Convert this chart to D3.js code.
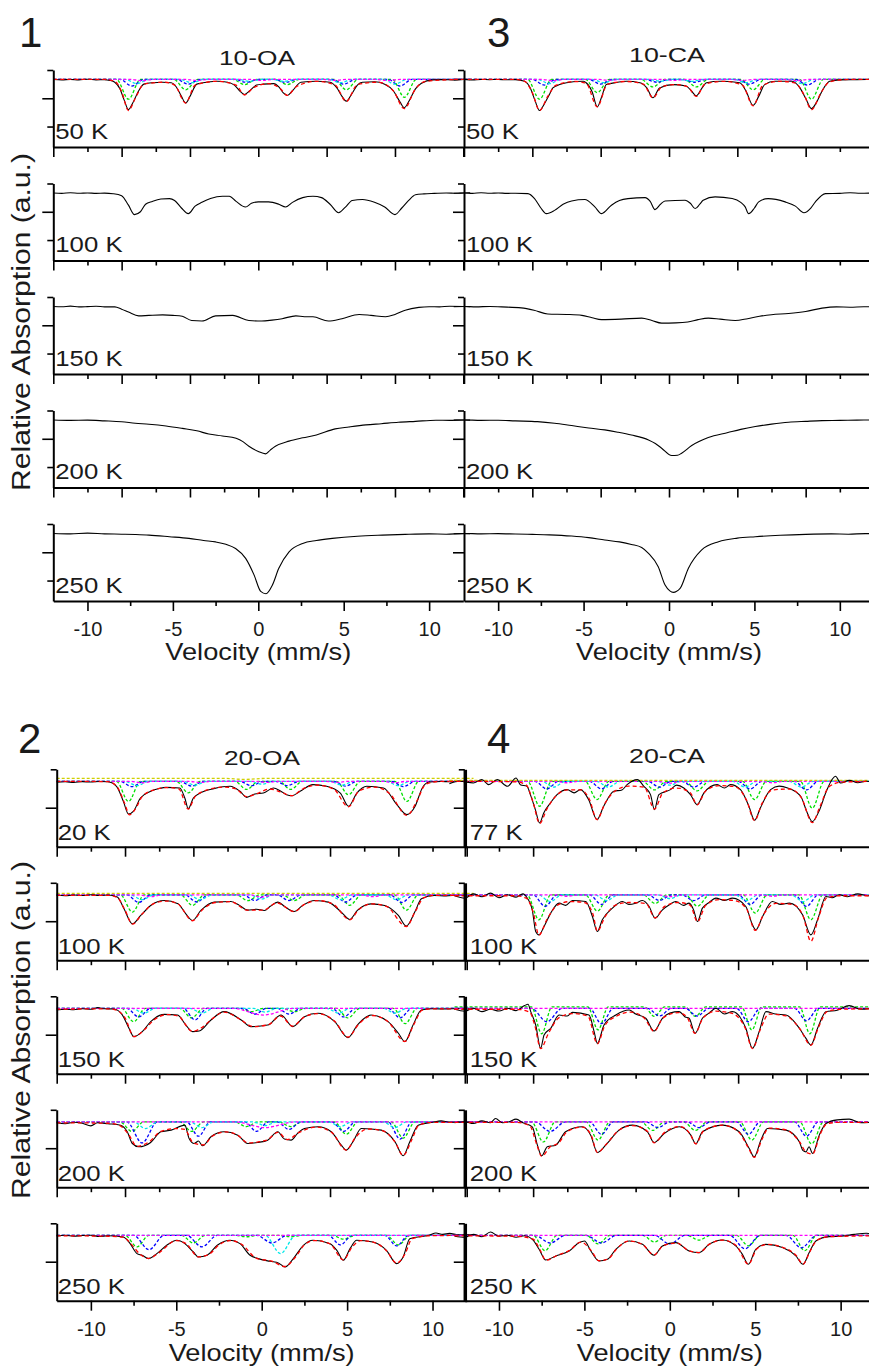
<!DOCTYPE html>
<html>
<head>
<meta charset="utf-8">
<script src="https://cdn.jsdelivr.net/npm/d3@7"></script>
<style>
	body { margin: 0; background: #fff; }
	svg { display: block; }
</style>
</head>
<body>
<div class="chart"></div>
<script>
// velocity axis (mm/s)
const velocityDomain = [ -12, 12 ];
const innerTicksMajor = [ -12, -8, -4, 0, 4, 8, 12 ];
const innerTicksMinor = [ -10, -6, -2, 2, 6, 10 ];
const bottomTicksMajor = [ -10, -5, 0, 5, 10 ];
const bottomTicksMinor = [ -7.5, -2.5, 2.5, 7.5 ];

const sampleNames = [ '10-OA', '10-CA', '20-OA', '20-CA' ];
const panelNumbers = [ '1', '3', '2', '4' ];
const tempsOA10 = [ '50 K', '100 K', '150 K', '200 K', '250 K' ];
const tempsCA10 = [ '50 K', '100 K', '150 K', '200 K', '250 K' ];
const tempsOA20 = [ '20 K', '100 K', '150 K', '200 K', '250 K' ];
const tempsCA20 = [ '77 K', '100 K', '150 K', '200 K', '250 K' ];

// spectra: [velocity, absorption %]
const oa10_50 = [[-12,0],[-11.5,0.05],[-11,0],[-10.5,0.05],[-10,-0.02],[-9.5,0.05],[-9,0.03],[-8.7,0.1],[-8.4,0.3],[-8.1,1.0],[-7.85,2.2],[-7.6,3.2],[-7.35,2.5],[-7.0,1.2],[-6.7,0.5],[-6.2,0.35],[-5.6,0.3],[-5.1,0.35],[-4.8,0.8],[-4.5,1.8],[-4.25,2.5],[-4.0,1.8],[-3.6,0.5],[-3.0,0.3],[-2.4,0.2],[-1.8,0.3],[-1.4,0.6],[-1.05,1.3],[-0.8,1.6],[-0.5,1.2],[-0.1,0.6],[0.3,0.5],[0.9,0.45],[1.2,0.8],[1.45,1.4],[1.7,1.7],[2.0,1.2],[2.5,0.3],[3.4,0.2],[4.2,0.3],[4.6,0.9],[4.9,1.8],[5.15,2.3],[5.45,1.6],[5.8,0.6],[6.1,0.3],[6.8,0.25],[7.4,0.5],[7.9,1.2],[8.3,2.4],[8.55,3.0],[8.85,2.2],[9.2,1.0],[9.55,0.4],[10.2,0.05],[10.8,0.02],[11.4,0.05],[12,0],[12.4,0.03]];
const oa10_100 = [[-12,0],[-11.5,0.05],[-11,-0.02],[-10.5,0.04],[-10,0],[-9.5,0.05],[-9,0.02],[-8.5,0.08],[-8.0,0.3],[-7.6,1.3],[-7.25,2.3],[-6.9,2.0],[-6.6,1.2],[-6.2,0.9],[-5.7,0.65],[-5.2,0.6],[-4.9,0.8],[-4.5,1.6],[-4.1,2.2],[-3.7,1.4],[-3.3,1.0],[-2.8,0.6],[-2.1,0.35],[-1.7,0.35],[-1.3,0.9],[-0.75,1.5],[-0.4,1.1],[0,0.95],[0.6,0.95],[1.2,1.2],[1.6,1.5],[2.0,1.0],[2.6,0.5],[3.2,0.35],[3.7,0.5],[4.2,1.2],[4.7,2.1],[5.1,1.5],[5.5,0.8],[6.1,0.7],[6.8,1.0],[7.4,1.5],[8.0,2.3],[8.4,1.6],[8.8,0.8],[9.2,0.2],[9.7,0.1],[10.3,0.05],[11,0],[11.6,0.04],[12,0],[12.4,-0.02]];
const oa10_150 = [[-12,0],[-11.5,0.03],[-11,-0.03],[-10.5,0.05],[-10,0.02],[-9.5,-0.02],[-9,0.05],[-8.4,0.05],[-8.0,0.3],[-7.6,0.6],[-7.0,1.0],[-6.4,0.95],[-5.6,0.9],[-5.0,0.95],[-4.45,1.05],[-3.9,1.5],[-3.3,1.55],[-2.5,1.0],[-1.5,0.95],[-0.55,1.5],[0.2,1.55],[0.8,1.45],[1.4,1.3],[2.2,1.0],[2.7,1.1],[3.2,1.1],[4.1,1.55],[4.9,1.3],[5.9,0.85],[6.6,0.95],[7.45,1.1],[8.0,0.85],[8.6,0.4],[9.4,0.1],[10,0.03],[10.6,0.05],[11.2,-0.02],[12,0],[12.4,0.02]];
const oa10_200 = [[-12,0],[-11,0.05],[-10,0.02],[-9,0.1],[-8.0,0.2],[-7.2,0.35],[-6.4,0.46],[-5.4,0.65],[-4.45,0.9],[-3.6,1.15],[-2.9,1.5],[-2.1,1.7],[-1.3,1.95],[-0.9,2.3],[-0.55,2.8],[0.0,3.35],[0.43,3.6],[0.7,3.2],[1.0,2.8],[1.8,2.25],[2.6,1.9],[3.4,1.6],[4.5,0.95],[5.3,0.75],[6.3,0.53],[7.2,0.4],[8.2,0.25],[9.2,0.15],[10.4,0.03],[11.2,0.05],[12,0],[12.4,0.02]];
const oa10_250 = [[-12,0],[-11,0.05],[-10,-0.03],[-9,0.05],[-8,0.08],[-7.2,0.12],[-6.4,0.18],[-5.2,0.35],[-4.06,0.53],[-3.2,0.75],[-2.5,0.9],[-1.9,1.15],[-1.33,1.6],[-0.74,2.65],[-0.25,4.4],[0.14,6.15],[0.45,6.4],[0.82,5.5],[1.2,3.7],[1.8,1.95],[2.6,1.06],[3.4,0.75],[4.33,0.53],[5.8,0.3],[7.26,0.18],[8.6,0.1],[10,0.05],[11,0.08],[12,0.02],[12.4,0.03]];

const ca10_50 = [[-12.6,0.05],[-12,0],[-11.5,0.05],[-11,0],[-10.5,0.03],[-10,0],[-9.5,0.04],[-9,0.02],[-8.45,0.2],[-8.1,1.0],[-7.85,2.2],[-7.58,3.3],[-7.3,2.6],[-7.0,1.6],[-6.8,0.9],[-6.4,0.55],[-6.0,0.35],[-5.0,0.2],[-4.85,0.35],[-4.5,1.3],[-4.2,2.9],[-3.95,1.9],[-3.67,0.55],[-3.0,0.3],[-2.5,0.2],[-1.7,0.35],[-1.3,0.9],[-0.94,1.95],[-0.55,0.9],[0.23,0.55],[1.0,0.7],[1.3,1.2],[1.6,1.75],[1.9,1.0],[2.2,0.35],[3.0,0.2],[4.14,0.35],[4.5,1.2],[4.92,2.75],[5.25,1.8],[5.6,0.55],[6.2,0.2],[7.2,0.2],[7.66,0.9],[8.0,2.0],[8.34,3.1],[8.7,2.2],[9.0,1.1],[9.4,0.2],[10,0.05],[11,0.03],[12,0]];
const ca10_100 = [[-12.6,0.03],[-12,0],[-11.5,0.05],[-11,-0.02],[-10.5,0.04],[-10,0],[-9.5,0.05],[-9,0.03],[-8.26,0.07],[-7.87,0.6],[-7.5,1.6],[-7.18,2.2],[-6.7,1.85],[-6.2,1.2],[-5.7,0.85],[-4.93,0.7],[-4.34,1.48],[-3.95,2.2],[-3.37,1.3],[-2.9,0.8],[-2.4,0.6],[-1.4,0.5],[-1.1,0.9],[-0.82,1.77],[-0.5,1.2],[-0.23,0.85],[0.94,0.78],[1.25,1.1],[1.53,1.66],[1.8,1.2],[2.0,0.78],[2.7,0.42],[3.7,0.6],[4.2,1.0],[4.46,1.48],[4.66,2.2],[5.0,1.6],[5.25,0.95],[5.8,0.6],[6.8,0.95],[7.4,1.4],[7.9,2.1],[8.3,1.6],[8.57,0.95],[9.16,0.07],[10,0.05],[10.6,-0.02],[11.2,0.04],[12,0]];
const ca10_150 = [[-12.6,0.02],[-12,0],[-11.3,0.05],[-10.5,0],[-9.8,0.05],[-8.65,0.15],[-7.9,0.4],[-7.1,0.8],[-6.0,0.85],[-5.1,0.95],[-4.5,1.2],[-3.95,1.4],[-2.8,1.35],[-1.6,1.24],[-1.0,1.5],[-0.43,1.77],[0.4,1.75],[1.1,1.66],[1.7,1.4],[2.3,1.24],[3.0,1.35],[3.87,1.5],[4.6,1.3],[5.3,1.05],[6.0,0.88],[7.0,0.75],[8.0,0.53],[8.96,0.18],[9.8,0.05],[10.6,0.08],[11.4,0.03],[12,0.04]];
const ca10_200 = [[-12.6,0.02],[-12,0],[-11,0.05],[-10,0.03],[-9,0.1],[-7.7,0.18],[-6.7,0.35],[-5.7,0.6],[-4.7,0.85],[-3.76,1.06],[-3.0,1.3],[-2.2,1.6],[-1.2,2.12],[-0.8,2.5],[-0.43,3.0],[0.16,3.78],[0.5,3.75],[0.74,3.53],[1.33,2.72],[2.3,1.87],[3.45,1.34],[4.2,1.0],[5.05,0.7],[6.0,0.45],[7.0,0.25],[8.0,0.15],[8.96,0.07],[10,0.05],[11,0.02],[12,0]];
const ca10_250 = [[-12.6,0.03],[-12,0],[-11,0.05],[-10,0.02],[-9,0.06],[-8,0.1],[-7,0.15],[-5.7,0.28],[-4.7,0.45],[-3.76,0.7],[-2.9,0.9],[-2.2,1.17],[-1.6,1.5],[-1.2,2.12],[-0.63,3.53],[-0.23,5.48],[0.05,6.1],[0.25,6.25],[0.65,5.83],[1.13,3.71],[1.9,1.77],[2.9,0.88],[4.0,0.5],[5.05,0.35],[6.5,0.2],[8.0,0.1],[9.5,0.05],[10.5,0.08],[11.5,0.02],[12,0.03]];

const oa20_20 = [[-12,0.1],[-11.5,0.05],[-11,0.12],[-10.5,0.03],[-10,0.08],[-9.5,0.02],[-9,0.05],[-8.5,0.52],[-8.1,2.08],[-7.8,3.4],[-7.5,3.1],[-7.1,1.74],[-6.5,1.04],[-6.0,0.75],[-5.6,0.63],[-4.8,0.69],[-4.5,1.74],[-4.3,2.85],[-4.0,1.74],[-3.6,1.22],[-2.8,0.76],[-1.85,0.52],[-1.27,1.04],[-0.88,1.67],[-0.4,1.32],[0.1,1.22],[0.68,0.7],[1.1,1.0],[1.46,1.4],[1.76,1.5],[2.25,1.04],[3.0,0.35],[3.8,0.52],[4.6,1.22],[5.08,2.6],[5.57,1.22],[6.15,0.52],[7.13,0.69],[7.9,2.4],[8.5,3.47],[8.98,2.6],[9.4,0.69],[9.8,0.07],[10.5,0.02],[11,0.05],[11.5,-0.02],[12,0.03],[12.4,0.05]];
const oa20_100 = [[-12,0.05],[-11.5,0.1],[-11,0.02],[-10.5,0.08],[-10,0],[-9.5,0.06],[-9,0.02],[-8.45,0.24],[-8.06,1.46],[-7.57,3.02],[-7.08,2.15],[-6.5,1.11],[-5.7,0.59],[-4.9,0.94],[-4.44,1.98],[-4.05,2.67],[-3.56,1.63],[-2.78,0.76],[-1.8,0.69],[-1.3,1.1],[-0.82,1.6],[-0.3,1.5],[0.16,1.63],[0.5,1.2],[0.94,0.76],[1.4,1.3],[1.9,1.74],[2.4,1.1],[3.1,0.59],[3.9,0.76],[4.66,1.8],[5.15,2.57],[5.6,1.63],[6.4,0.94],[7.2,1.11],[8.0,2.15],[8.47,3.26],[8.96,1.8],[9.35,0.42],[10.1,0.07],[10.8,0.12],[11.5,0.02],[12,0.08],[12.4,0.05]];
const oa20_150 = [[-12,0.17],[-11.5,0.1],[-11,0.15],[-10.5,0.05],[-10,0.1],[-9.6,-0.07],[-9.2,0.05],[-8.65,0.07],[-8.16,0.69],[-7.77,2.08],[-7.48,2.95],[-6.99,2.43],[-6.5,1.39],[-5.7,0.63],[-4.93,0.69],[-4.44,1.74],[-4.05,2.43],[-3.66,2.36],[-2.97,1.22],[-2.2,0.35],[-1.2,1.22],[-0.63,1.91],[0.35,1.74],[1.13,0.69],[1.82,1.91],[2.5,0.87],[3.3,0.52],[4.27,1.39],[5.05,3.06],[5.6,1.74],[6.4,0.69],[7.4,1.39],[8.0,2.6],[8.38,3.47],[8.86,1.74],[9.35,0.17],[10,0.05],[10.8,0.08],[11.5,0.02],[12,0.06],[12.4,0.03]];
const oa20_200 = [[-12,0.1],[-11.5,0.2],[-11,0.05],[-10.5,0.15],[-10,0.42],[-9.6,0.1],[-9,0.2],[-8.26,0.35],[-7.87,1.04],[-7.57,2.26],[-7.2,2.6],[-6.5,2.15],[-5.9,1.04],[-5.3,0.87],[-4.5,0.35],[-4.25,1.74],[-3.95,2.26],[-3.7,2.0],[-3.46,2.5],[-2.97,1.56],[-2.2,1.04],[-1.4,1.39],[-0.82,2.26],[-0.23,2.15],[0.35,1.91],[0.94,1.04],[1.33,1.8],[1.72,1.91],[2.1,1.2],[2.5,0.69],[3.3,0.52],[4.07,1.04],[4.66,2.43],[4.95,2.95],[5.34,2.08],[5.83,0.69],[7.0,0.87],[7.8,2.08],[8.28,3.54],[8.67,2.08],[9.16,0.35],[10,0.05],[10.5,-0.1],[11,0.05],[12,0.02],[12.4,0.06]];
const oa20_250 = [[-12,0.07],[-11.5,0.0],[-11,0.1],[-10.5,0.02],[-10,0.0],[-9.5,0.12],[-9,0.05],[-8.1,0.17],[-7.7,0.87],[-7.3,1.91],[-7.0,2.08],[-6.63,2.43],[-6.14,1.91],[-5.56,1.04],[-4.97,0.52],[-4.5,0.87],[-4.0,1.74],[-3.7,2.26],[-3.2,2.08],[-2.6,1.04],[-1.85,0.52],[-1.27,0.87],[-0.68,2.08],[-0.2,2.43],[0.5,2.71],[1.0,2.9],[1.36,3.3],[1.85,2.43],[2.44,1.04],[3.0,0.52],[4.0,0.87],[4.4,1.56],[4.78,2.6],[5.17,1.39],[5.56,0.52],[6.5,0.69],[7.3,1.56],[7.9,2.95],[8.28,2.26],[8.67,0.35],[9.8,0.0],[10.2,-0.24],[10.6,-0.1],[11.0,-0.2],[11.5,-0.05],[12,-0.07],[12.4,0.0]];

const ca20_77 = [[-12.9,0.24],[-12.3,0.0],[-11.5,0.17],[-11.0,-0.17],[-10.6,0.35],[-10.1,-0.17],[-9.5,0.52],[-9.0,-0.35],[-8.75,0.35],[-8.36,0.52],[-8.16,1.39],[-7.87,2.95],[-7.62,4.34],[-7.38,3.3],[-6.99,2.26],[-6.6,1.39],[-6.0,0.87],[-5.6,1.2],[-5.23,0.87],[-4.75,1.91],[-4.26,3.99],[-3.87,2.6],[-3.28,1.04],[-2.8,0.9],[-2.5,0.35],[-1.9,-0.17],[-1.52,0.52],[-1.13,1.39],[-0.9,2.95],[-0.64,1.39],[0.04,0.87],[0.4,0.4],[0.82,0.69],[1.21,1.39],[1.6,2.43],[2.0,1.2],[2.77,0.35],[3.2,0.7],[3.55,0.35],[4.14,0.87],[4.63,2.6],[4.96,4.06],[5.3,2.78],[5.9,0.87],[6.4,0.5],[6.9,0.69],[7.66,1.56],[8.05,3.3],[8.34,4.2],[8.73,3.13],[9.2,0.87],[9.7,-0.52],[10.0,0.17],[10.5,-0.1],[11.0,0.15],[11.5,0.0],[12,0.1]];
const ca20_100 = [[-12.6,0.1],[-12,0.35],[-11.5,-0.1],[-11,0.2],[-10.5,-0.17],[-10,0.3],[-9.5,0.0],[-9,0.24],[-8.6,-0.1],[-8.34,0.35],[-8.05,1.56],[-7.85,3.82],[-7.66,4.17],[-7.36,3.3],[-6.97,1.91],[-6.48,0.87],[-6.1,1.1],[-5.7,0.59],[-4.92,0.69],[-4.53,2.26],[-4.24,3.82],[-3.95,2.6],[-3.36,1.39],[-2.77,0.69],[-2.4,1.0],[-1.99,0.87],[-1.6,0.6],[-1.21,1.22],[-0.86,2.43],[-0.43,1.56],[0.0,1.0],[0.35,0.69],[0.8,1.1],[1.13,0.87],[1.4,1.6],[1.62,2.78],[1.91,1.39],[2.3,0.8],[2.7,0.35],[3.2,0.6],[3.67,0.35],[4.45,1.22],[4.84,3.13],[5.04,3.65],[5.43,2.26],[6.0,0.69],[6.5,1.0],[7.0,0.87],[7.77,2.08],[8.26,4.17],[8.65,2.6],[9.14,0.17],[9.5,0.3],[9.92,0.0],[10.4,0.2],[11,-0.1],[11.6,0.1],[12,0.05]];
const ca20_150 = [[-12.6,0.1],[-12,0.3],[-11.5,0.0],[-11,0.35],[-10.5,0.1],[-10,0.28],[-9.5,0.0],[-9,0.24],[-8.5,-0.28],[-8.3,-0.42],[-8.14,0.35],[-7.85,1.74],[-7.56,4.17],[-7.36,2.78],[-6.97,2.08],[-6.48,0.69],[-6.0,0.8],[-5.7,0.42],[-4.73,0.69],[-4.43,2.43],[-4.24,3.65],[-3.85,1.74],[-3.16,0.69],[-2.38,0.17],[-2.0,0.6],[-1.41,1.04],[-0.92,2.36],[-0.43,1.04],[0.0,0.5],[0.55,0.35],[0.9,0.9],[1.13,1.04],[1.48,2.6],[1.91,1.04],[2.3,0.5],[2.7,0.0],[3.2,0.6],[3.67,0.35],[4.45,2.08],[4.84,4.17],[5.23,2.43],[5.63,0.35],[6.2,0.6],[6.8,0.69],[7.58,2.08],[7.97,3.13],[8.26,3.82],[8.65,2.08],[9.14,0.35],[9.8,0.2],[10.5,-0.28],[11.2,0.1],[12,-0.05]];
const ca20_200 = [[-12.6,0.1],[-12,0.0],[-11.5,0.17],[-11,-0.1],[-10.5,0.1],[-10.2,-0.35],[-9.8,0.1],[-9.4,0.0],[-9,-0.28],[-8.6,0.1],[-8.05,0.52],[-7.75,2.43],[-7.5,3.54],[-7.17,2.6],[-6.68,2.43],[-6.1,1.04],[-5.12,0.52],[-4.63,1.39],[-4.24,3.19],[-3.75,2.43],[-2.97,0.87],[-2.19,0.35],[-1.31,1.04],[-0.92,2.15],[-0.33,1.22],[0.55,0.52],[1.23,1.39],[1.52,2.29],[1.91,1.04],[3.09,0.35],[4.06,1.04],[4.65,2.78],[4.94,3.65],[5.33,1.91],[5.72,0.69],[6.8,0.87],[7.58,2.08],[7.8,3.0],[7.97,3.13],[8.15,2.6],[8.36,3.3],[8.75,1.39],[9.14,0.17],[9.8,-0.2],[10.5,-0.28],[11.2,0.1],[12,0.0]];
const ca20_250 = [[-12.6,0.1],[-12,0.2],[-11.5,-0.1],[-11,0.15],[-10.5,-0.35],[-10,0.1],[-9.5,0.0],[-9,0.2],[-8.5,0.05],[-8.04,0.42],[-7.65,1.46],[-7.26,2.57],[-6.67,2.15],[-5.89,1.63],[-5.3,0.76],[-5.0,0.59],[-4.62,1.63],[-4.14,2.67],[-3.65,2.5],[-3.16,1.46],[-2.38,0.59],[-1.6,0.94],[-0.92,2.08],[-0.43,1.11],[0.35,0.76],[1.13,1.63],[1.72,1.8],[2.3,0.94],[3.08,0.49],[3.86,1.11],[4.25,1.98],[4.6,3.02],[5.03,1.46],[5.62,0.94],[6.6,1.28],[7.38,2.15],[7.8,3.02],[8.16,1.8],[8.55,0.59],[9.33,0.14],[10.0,0.1],[10.8,-0.1],[11.5,-0.21],[12,-0.1]];

// total fits (red)
const oa10_50_fit = [[-12,0],[-9,0],[-8.4,0.2],[-8.0,1.3],[-7.6,3.3],[-7.2,2.0],[-6.7,0.5],[-5.5,0.3],[-4.9,0.6],[-4.25,2.5],[-3.7,0.6],[-2.4,0.2],[-1.3,0.6],[-0.8,1.65],[-0.3,0.9],[0.6,0.45],[1.3,1.0],[1.7,1.7],[2.2,0.8],[3.4,0.2],[4.5,0.6],[5.15,2.35],[5.8,0.55],[7.0,0.3],[7.9,1.2],[8.55,3.1],[9.2,1.0],[9.8,0.2],[12,0],[12.4,0]];
const ca10_50_fit = [[-12.6,0],[-9,0],[-8.45,0.2],[-8.0,1.4],[-7.58,3.3],[-7.1,1.8],[-6.6,0.6],[-5.5,0.22],[-4.85,0.4],[-4.2,2.9],[-3.6,0.5],[-2.5,0.22],[-1.5,0.5],[-0.94,1.95],[-0.4,0.75],[0.4,0.55],[1.1,0.8],[1.6,1.8],[2.1,0.5],[3.2,0.2],[4.3,0.6],[4.92,2.8],[5.5,0.6],[6.5,0.2],[7.4,0.4],[7.9,1.6],[8.34,3.2],[8.9,1.4],[9.4,0.25],[10.5,0],[12,0]];
const oa20_20_fit = [[-12,0],[-9,0.03],[-8.5,0.5],[-8.0,2.4],[-7.75,3.5],[-7.4,2.9],[-7.0,1.6],[-6.3,0.9],[-5.5,0.65],[-4.85,0.8],[-4.3,2.9],[-3.9,1.6],[-3.2,0.9],[-2.2,0.6],[-1.5,0.8],[-0.88,1.6],[-0.3,1.3],[0.5,0.8],[1.1,1.1],[1.76,1.5],[2.4,0.8],[3.2,0.4],[4.2,0.8],[5.08,2.65],[5.7,1.0],[6.6,0.6],[7.5,1.3],[8.5,3.55],[9.1,2.0],[9.6,0.3],[10.5,0],[12.4,0]];
const oa20_100_fit = [[-12,0.05],[-9,0.05],[-8.45,0.3],[-8.0,1.6],[-7.57,3.05],[-7.0,2.0],[-6.4,1.0],[-5.6,0.65],[-4.9,0.95],[-4.05,2.7],[-3.5,1.6],[-2.7,0.8],[-1.8,0.72],[-0.82,1.6],[0.1,1.6],[0.9,0.85],[1.9,1.75],[2.5,1.0],[3.3,0.6],[4.2,1.0],[5.15,2.6],[5.7,1.5],[6.5,0.95],[7.3,1.2],[8.47,3.3],[9.0,1.7],[9.5,0.3],[10.2,0.05],[12.4,0.05]];
const oa20_150_fit = [[-12,0.1],[-9,0.05],[-8.5,0.2],[-8.0,1.0],[-7.48,2.95],[-6.9,2.3],[-6.3,1.2],[-5.5,0.65],[-4.9,0.8],[-4.05,2.4],[-3.5,2.0],[-2.9,1.1],[-2.2,0.4],[-1.3,1.1],[-0.5,1.9],[0.4,1.7],[1.1,0.8],[1.8,1.85],[2.5,0.9],[3.3,0.55],[4.3,1.4],[5.05,3.0],[5.7,1.6],[6.5,0.75],[7.4,1.4],[8.38,3.45],[8.9,1.7],[9.4,0.2],[10,0.05],[12.4,0.05]];
const oa20_200_fit = [[-12,0.1],[-9,0.15],[-8.3,0.4],[-7.8,1.3],[-7.3,2.55],[-6.6,2.1],[-5.9,1.0],[-5.0,0.7],[-4.5,0.8],[-4.0,2.2],[-3.4,2.4],[-2.9,1.5],[-2.1,1.05],[-1.4,1.4],[-0.8,2.2],[0.3,1.9],[0.95,1.1],[1.5,1.85],[2.2,1.1],[3.2,0.55],[4.1,1.1],[4.95,2.95],[5.5,1.6],[6.2,0.75],[7.1,0.95],[7.8,2.1],[8.28,3.5],[8.8,1.8],[9.2,0.35],[10,0.05],[12.4,0.05]];
const oa20_250_fit = [[-12,0.05],[-9,0.1],[-8.1,0.2],[-7.6,1.0],[-7.1,2.0],[-6.63,2.4],[-6.0,1.8],[-5.0,0.55],[-4.4,0.9],[-3.7,2.25],[-3.1,2.0],[-2.5,1.0],[-1.85,0.55],[-1.2,0.9],[-0.3,2.4],[0.6,2.7],[1.36,3.25],[2.0,2.2],[2.5,1.0],[3.1,0.55],[4.0,0.9],[4.78,2.55],[5.3,1.2],[5.8,0.55],[6.6,0.75],[7.3,1.6],[7.9,2.9],[8.4,1.9],[8.8,0.35],[9.8,0.05],[12.4,0]];
const ca20_77_fit = [[-12.9,0],[-9,0.05],[-8.4,0.4],[-8.0,2.2],[-7.62,4.4],[-7.2,2.9],[-6.7,1.6],[-6.0,0.9],[-5.2,0.9],[-4.7,1.9],[-4.26,4.0],[-3.8,2.3],[-3.2,1.0],[-2.4,0.5],[-1.5,0.6],[-0.9,2.9],[-0.4,1.2],[0.4,0.7],[1.2,1.2],[1.6,2.45],[2.1,1.0],[2.9,0.45],[3.8,0.55],[4.5,2.0],[4.96,4.1],[5.4,2.3],[6.0,0.9],[7.0,0.8],[7.7,1.7],[8.34,4.3],[8.8,2.6],[9.3,0.6],[10.0,0.1],[12,0]];
const ca20_100_fit = [[-12.6,0.1],[-9,0.1],[-8.4,0.35],[-8.0,1.8],[-7.66,4.2],[-7.2,2.6],[-6.6,1.1],[-5.8,0.7],[-5.0,0.8],[-4.5,2.0],[-4.24,3.8],[-3.8,2.3],[-3.2,1.1],[-2.4,0.8],[-1.4,0.9],[-0.86,2.4],[-0.3,1.2],[0.5,0.8],[1.2,1.1],[1.62,2.8],[2.1,1.1],[2.9,0.5],[3.8,0.6],[4.5,1.5],[5.0,3.7],[5.5,2.0],[6.2,0.9],[7.2,1.0],[7.8,2.2],[8.26,4.85],[8.7,2.4],[9.2,0.3],[10,0.1],[12,0.1]];
const ca20_150_fit = [[-12.6,0.1],[-9,0.1],[-8.2,0.4],[-7.9,1.8],[-7.56,4.2],[-7.1,2.6],[-6.5,1.0],[-5.7,0.55],[-4.8,0.8],[-4.24,3.7],[-3.8,1.8],[-3.1,0.8],[-2.3,0.4],[-1.5,1.0],[-0.92,2.4],[-0.4,1.0],[0.5,0.45],[1.0,0.9],[1.48,2.6],[1.95,1.0],[2.7,0.3],[3.6,0.5],[4.4,2.0],[4.84,4.2],[5.3,2.2],[5.8,0.6],[6.8,0.8],[7.6,2.1],[8.26,3.85],[8.7,2.0],[9.2,0.35],[10,0.1],[12,0.05]];
const ca20_200_fit = [[-12.6,0.05],[-9,0.05],[-8.2,0.4],[-7.8,2.3],[-7.5,3.6],[-7.0,2.6],[-6.5,2.2],[-6.0,1.0],[-5.1,0.55],[-4.6,1.4],[-4.24,3.2],[-3.7,2.3],[-3.0,0.9],[-2.2,0.4],[-1.3,1.0],[-0.92,2.2],[-0.3,1.1],[0.6,0.5],[1.2,1.3],[1.52,2.3],[2.0,0.9],[3.1,0.35],[4.0,1.0],[4.6,2.7],[4.94,3.7],[5.4,1.8],[5.8,0.65],[6.8,0.85],[7.6,2.1],[8.0,3.2],[8.36,3.35],[8.8,1.3],[9.2,0.2],[10,0.05],[12,0.05]];
const ca20_250_fit = [[-12.6,0.05],[-9,0.1],[-8.0,0.4],[-7.6,1.5],[-7.26,2.6],[-6.6,2.1],[-5.9,1.6],[-5.2,0.7],[-4.6,1.6],[-4.14,2.65],[-3.6,2.45],[-3.1,1.4],[-2.4,0.6],[-1.6,0.95],[-0.92,2.05],[-0.4,1.1],[0.4,0.8],[1.1,1.6],[1.72,1.8],[2.3,0.95],[3.1,0.5],[3.9,1.1],[4.6,3.0],[5.1,1.4],[5.7,0.95],[6.6,1.25],[7.4,2.1],[7.8,3.0],[8.2,1.7],[8.6,0.55],[9.3,0.15],[12,0.05]];

// fit components: dips [centre, depth, half width], in order green, blue, cyan, magenta, yellow
const oa10_50_parts = [
	{ dips: [[-7.6,2.1],[-4.25,1.1],[-0.8,0.55],[1.7,0.55],[5.15,1.1],[8.55,1.9]] },
	{ dips: [[-7.4,0.7],[-4.1,0.5],[-0.7,0.3],[1.6,0.3],[5.0,0.5],[8.3,0.7]] },
	{ dips: [[-7.1,0.45],[-3.9,0.35],[-0.5,0.2],[1.5,0.2],[4.8,0.35],[8.0,0.5]] },
	{ dips: [[-6.8,0.12],[-3.6,0.1],[0.2,0.1],[4.5,0.1],[7.6,0.12]] },
	null
];
const ca10_50_parts = [
	{ dips: [[-7.58,2.1],[-4.2,1.4],[-0.94,0.8],[1.6,0.8],[4.92,1.1],[8.34,2.1]] },
	{ dips: [[-7.3,0.6],[-4.0,0.5],[-0.7,0.3],[1.5,0.3],[4.7,0.5],[8.1,0.6]] },
	{ dips: [[-7.0,0.45],[-3.8,0.35],[-0.5,0.2],[1.3,0.2],[4.5,0.35],[7.8,0.45]] },
	{ dips: [[-6.8,0.12],[-3.5,0.1],[0.3,0.1],[4.3,0.1],[7.5,0.12]] },
	null
];
const oa20_20_parts = [
	{ dips: [[-7.8,2.1],[-4.3,1.2],[-0.88,0.85],[1.7,0.85],[5.08,1.4],[8.5,2.1]] },
	{ dips: [[-7.6,0.55],[-4.1,0.5],[-0.6,0.45],[1.5,0.45],[4.9,0.5],[8.3,0.55]] },
	{ dips: [[-7.3,0.45],[-3.9,0.4],[0,0.3],[4.7,0.4],[8.0,0.45]] },
	{ dips: [[-7.0,0.15],[-3.6,0.12],[0.3,0.12],[4.4,0.12],[7.8,0.15]] },
	{ base: -0.3, dips: [[-1,0.1,1.2]] }
];
const oa20_100_parts = [
	{ dips: [[-7.57,1.8],[-4.05,1.1],[-0.8,0.6],[1.9,0.6],[5.15,1.1],[8.47,1.6]] },
	{ dips: [[-7.2,0.8],[-3.8,0.75],[-0.4,0.6],[1.6,0.6],[4.9,0.75],[8.2,0.8]] },
	{ dips: [[-7.0,0.5],[-3.6,0.5],[0,0.45],[4.6,0.5],[7.9,0.5]] },
	{ dips: [[-6.5,0.2],[0,0.25],[6.5,0.2]] },
	{ base: -0.15, dips: [] }
];
const oa20_150_parts = [
	{ dips: [[-7.5,1.4],[-4.1,1.0],[-0.6,0.35],[1.9,0.35],[5.05,1.0],[8.4,1.6]] },
	{ dips: [[-7.2,0.9],[-3.9,1.2],[-0.4,0.6],[1.6,0.6],[4.8,0.9],[8.1,1.0]] },
	{ dips: [[-6.9,0.5],[-3.5,0.5],[0.2,0.4],[4.5,0.5],[7.8,0.5]] },
	{ dips: [[0.1,0.7,1.8]] },
	null
];
const oa20_200_parts = [
	{ dips: [[-7.6,1.0],[-4.1,1.0],[-0.9,0.5],[1.7,0.5],[4.95,1.3],[8.28,1.7]] },
	{ dips: [[-7.0,2.2,0.9],[-3.7,1.5],[-0.3,1.0],[1.6,0.8],[4.8,1.0],[8.1,1.8]] },
	{ dips: [[-6.8,0.7],[-3.5,0.6],[0.2,0.4],[4.6,0.5],[7.8,0.6]] },
	{ dips: [[0.2,0.6,1.8]] },
	null
];
const oa20_250_parts = [
	{ dips: [[-7.3,1.2],[-4.0,0.8],[-0.9,0.15],[1.7,0.15],[4.8,0.4],[8.0,1.0]] },
	{ dips: [[-6.6,1.5,0.9],[-3.5,1.2,0.9],[0.6,0.8,0.9],[4.6,1.0],[7.9,1.1]] },
	{ dips: [[1.1,1.9,0.9]] },
	{ dips: [] },
	null
];
const ca20_77_parts = [
	{ dips: [[-7.62,2.6],[-4.26,1.9],[-0.9,0.9],[1.6,1.0],[4.96,1.9],[8.34,2.8]] },
	{ dips: [[-7.2,0.8],[-4.0,0.8],[-0.6,0.6],[1.4,0.6],[4.7,0.8],[8.0,0.9]] },
	{ dips: [[-6.8,0.6],[-3.6,0.6],[0,0.4],[4.4,0.6],[7.7,0.6]] },
	{ dips: [[-6,0.15],[0,0.2],[6,0.15]] },
	{ base: -0.1, dips: [] }
];
const ca20_100_parts = [
	{ dips: [[-7.66,2.6],[-4.24,1.7],[-0.86,0.9],[1.62,1.2],[5.0,1.9],[8.26,2.6]] },
	{ dips: [[-7.3,1.2],[-4.0,1.0],[-0.6,0.6],[1.4,0.6],[4.7,1.0],[8.0,1.2]] },
	{ dips: [[-7.0,0.7],[-3.7,0.6],[0,0.4],[4.5,0.6],[7.8,0.7]] },
	{ dips: [[-6,0.15],[0,0.2],[6,0.15]] },
	null
];
const ca20_150_parts = [
	{ base: -0.15, dips: [[-7.5,2.8,0.6],[-4.2,2.4,0.6],[-0.9,1.0,0.6],[1.5,1.0,0.6],[4.8,2.4,0.6],[8.2,2.8,0.6]] },
	{ dips: [[-7.2,1.4,0.9],[-4.0,1.6],[-0.6,0.8],[1.6,0.8],[4.6,1.4],[8.0,1.3]] },
	null,
	{ dips: [] },
	null
];
const ca20_200_parts = [
	{ dips: [[-7.4,2.1],[-4.2,1.9],[-1.0,0.9],[1.5,0.9],[4.8,1.9],[8.3,2.3]] },
	{ dips: [[-7.0,1.0,0.9],[-4.0,1.3],[-0.7,0.6],[1.7,0.6],[4.6,1.3],[8.0,1.5]] },
	null,
	{ dips: [] },
	null
];
const ca20_250_parts = [
	{ dips: [[-7.3,1.6],[-4.2,0.9],[-0.9,0.7],[1.7,0.5],[4.6,1.1],[7.9,1.6]] },
	{ dips: [[-7.0,0.8,0.9],[-4.0,0.8,0.9],[0.0,0.9,0.9],[4.4,1.4,0.9],[7.7,1.3,0.9]] },
	null,
	{ dips: [] },
	null
];

// ---------- layout ----------
const partColors = [ '#00e000', '#0000ff', '#00e8e8', '#ff00ff', '#d0d000' ];
const plotWidth = 410;

const sections = [
	{ rows: [ 147, 260.5, 374, 487.5, 601 ], h: 77, yDomain: [ -1, 7.17 ], yMinor: [ -1, 5 ], yMajor: [ 2 ], kDrop: 8.5, yLabelY: 322, velY: 660 },
	{ rows: [ 846.7, 960.2, 1073.7, 1187.2, 1300.7 ], h: 77.4, yDomain: [ -1.25, 6.81 ], yMinor: [ -1.25 ], yMajor: [ 2.75 ], kDrop: 6.5, yLabelY: 1030, velY: 1361 }
];

const panels = [
	{ sec: 0, x0: 53.3, numX: 19, numY: 47, titleX: 257, titleY: 65, axisW: 2, kDx: 2, temps: tempsOA10,
		spectra: [ oa10_50, oa10_100, oa10_150, oa10_200, oa10_250 ], fits: [ oa10_50_fit ], parts: [ oa10_50_parts ] },
	{ sec: 0, x0: 464, numX: 487, numY: 47, titleX: 667, titleY: 62, axisW: 2, kDx: 2, temps: tempsCA10,
		spectra: [ ca10_50, ca10_100, ca10_150, ca10_200, ca10_250 ], fits: [ ca10_50_fit ], parts: [ ca10_50_parts ] },
	{ sec: 1, x0: 56.7, numX: 18, numY: 753, titleX: 262, titleY: 765, axisW: 2, kDx: 1, temps: tempsOA20,
		spectra: [ oa20_20, oa20_100, oa20_150, oa20_200, oa20_250 ],
		fits: [ oa20_20_fit, oa20_100_fit, oa20_150_fit, oa20_200_fit, oa20_250_fit ],
		parts: [ oa20_20_parts, oa20_100_parts, oa20_150_parts, oa20_200_parts, oa20_250_parts ] },
	{ sec: 1, x0: 464.8, numX: 487, numY: 753, titleX: 667, titleY: 763, axisW: 3.5, kDx: 5, temps: tempsCA20,
		spectra: [ ca20_77, ca20_100, ca20_150, ca20_200, ca20_250 ],
		fits: [ ca20_77_fit, ca20_100_fit, ca20_150_fit, ca20_200_fit, ca20_250_fit ],
		parts: [ ca20_77_parts, ca20_100_parts, ca20_150_parts, ca20_200_parts, ca20_250_parts ] }
];

const svg = d3
	.select('.chart')
	.append('svg')
	.attr('width', 869)
	.attr('height', 1367)
	.attr('font-family', '"Liberation Sans", Arial, sans-serif')
	.attr('fill', '#1a1a1a');

const smoothLine = d3.line().curve(d3.curveMonotoneX);

// vertices for one dashed component: flat base with a bump at each dip
function partPoints(part, lo, hi) {
	const base = part.base || 0;
	const pts = [ [ lo, base ] ];
	part.dips.forEach(([ c, d, w = 0.7 ]) => {
		pts.push([ c - w, base ], [ c, base + d ], [ c + w, base ]);
	});
	pts.push([ hi, base ]);
	return pts;
}

panels.forEach((p, pi) => {
	const sec = sections[p.sec];
	const x = d3.scaleLinear().domain(velocityDomain).range([ p.x0, p.x0 + plotWidth ]);

	p.spectra.forEach((spec, i) => {
		const bottom = sec.rows[i];
		const top = bottom - sec.h;
		const y = d3.scaleLinear().domain(sec.yDomain).range([ top, bottom ]);
		const g = svg.append('g');
		smoothLine.x((d) => x(d[0])).y((d) => y(d[1]));

		const lo = spec[0][0];
		const hi = spec[spec.length - 1][0];
		const parts = p.parts[i];
		if (parts) {
			parts.forEach((part, k) => {
				if (!part) return;
				g
					.append('path')
					.attr('d', smoothLine(partPoints(part, lo, hi)))
					.attr('fill', 'none')
					.attr('stroke', partColors[k])
					.attr('stroke-width', 1.3)
					.attr('stroke-dasharray', '3,2');
			});
		}

		g
			.append('path')
			.attr('d', smoothLine(spec))
			.attr('fill', 'none')
			.attr('stroke', '#000')
			.attr('stroke-width', 1.1)
			.attr('stroke-linejoin', 'round');

		const fit = p.fits[i];
		if (fit) {
			g
				.append('path')
				.attr('d', smoothLine(fit))
				.attr('fill', 'none')
				.attr('stroke', '#ff0000')
				.attr('stroke-width', 1.3)
				.attr('stroke-dasharray', '4,3');
		}

		// left axis
		const yAxis = g
			.append('g')
			.attr('transform', `translate(${p.x0},0)`)
			.call(d3.axisLeft(y).tickValues([ ...sec.yMinor, ...sec.yMajor ]).tickSize(6).tickSizeOuter(0).tickFormat(''));
		yAxis.selectAll('.tick line').filter((d) => sec.yMajor.includes(d)).attr('x2', -11);
		yAxis.selectAll('.tick line').attr('stroke-width', 1.6);
		yAxis.select('.domain').attr('stroke-width', p.axisW);

		// bottom axis
		const last = i === p.spectra.length - 1;
		const major = last ? bottomTicksMajor : innerTicksMajor;
		const minor = last ? bottomTicksMinor : innerTicksMinor;
		const xAxis = g
			.append('g')
			.attr('transform', `translate(0,${bottom})`)
			.call(
				d3
					.axisBottom(x)
					.tickValues([ ...major, ...minor ])
					.tickSize(5)
					.tickSizeOuter(0)
					.tickFormat((d) => (last && major.includes(d) ? String(d) : ''))
			);
		xAxis.selectAll('.tick line').filter((d) => major.includes(d)).attr('y2', 10);
		xAxis.selectAll('.tick line').attr('stroke-width', 1.6);
		xAxis.select('.domain').attr('stroke-width', 2);
		xAxis
			.selectAll('.tick text')
			.attr('y', 21)
			.attr('font-size', 20)
			.attr('font-family', '"Liberation Sans", Arial, sans-serif')
			.attr('fill', '#1a1a1a');

		// temperature label
		g
			.append('text')
			.attr('transform', `translate(${p.x0 + p.kDx},${bottom - sec.kDrop}) scale(1.12,1)`)
			.attr('font-size', 23)
			.text(p.temps[i]);
	});

	// panel number and sample name
	svg.append('text').attr('x', p.numX).attr('y', p.numY).attr('font-size', 42).text(panelNumbers[pi]);
	svg
		.append('text')
		.attr('x', p.titleX)
		.attr('y', p.titleY)
		.attr('text-anchor', 'middle')
		.attr('font-size', 21)
		.attr('textLength', 76)
		.attr('lengthAdjust', 'spacingAndGlyphs')
		.text(sampleNames[pi]);

	// x axis title
	svg
		.append('text')
		.attr('x', p.x0 + plotWidth / 2)
		.attr('y', sec.velY)
		.attr('text-anchor', 'middle')
		.attr('font-size', 24)
		.attr('textLength', 186)
		.attr('lengthAdjust', 'spacingAndGlyphs')
		.text('Velocity (mm/s)');
});

// y axis titles
sections.forEach((sec) => {
	svg
		.append('text')
		.attr('transform', `translate(30,${sec.yLabelY}) rotate(-90)`)
		.attr('text-anchor', 'middle')
		.attr('font-size', 26)
		.attr('textLength', 338)
		.attr('lengthAdjust', 'spacingAndGlyphs')
		.text('Relative Absorption (a.u.)');
});
</script>
</body>
</html>
